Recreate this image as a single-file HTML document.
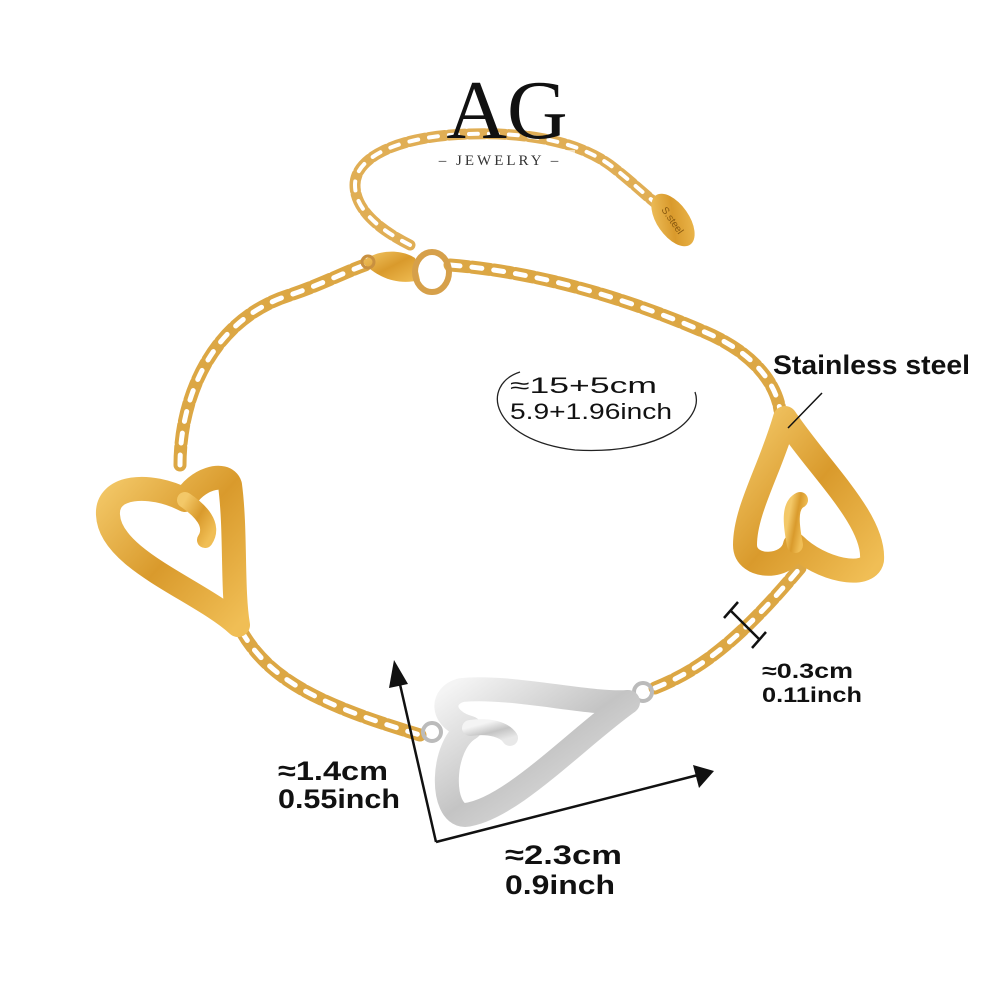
<!DOCTYPE html>
<html><head><meta charset="utf-8"><style>
html,body{margin:0;padding:0;background:#fff;width:1000px;height:1000px;overflow:hidden}
</style></head><body>
<svg width="1000" height="1000" viewBox="0 0 1000 1000" xmlns="http://www.w3.org/2000/svg">
<defs>
<linearGradient id="g" x1="0" y1="0" x2="1" y2="1"><stop offset="0" stop-color="#f3c868"/><stop offset="0.5" stop-color="#d99a2c"/><stop offset="1" stop-color="#f0be55"/></linearGradient>
<linearGradient id="s" x1="0" y1="0" x2="1" y2="1"><stop offset="0" stop-color="#f4f4f4"/><stop offset="0.5" stop-color="#c4c4c4"/><stop offset="1" stop-color="#e8e8e8"/></linearGradient>
</defs>
<rect width="1000" height="1000" fill="#fff"/>
<!-- chains -->
<g fill="none" stroke-linecap="round">
<path d="M410,245 C380,230 355,210 355,185 C355,160 390,140 450,135 C520,130 575,140 610,165 C630,180 645,195 658,205" stroke="#e0ae55" stroke-width="11" stroke-dasharray="16 4"/>
<path d="M410,245 C380,230 355,210 355,185 C355,160 390,140 450,135 C520,130 575,140 610,165 C630,180 645,195 658,205" stroke="#fff" stroke-width="4" stroke-dasharray="9 11"/>
<path d="M180,465 C180,400 210,320 290,295 C320,285 345,272 365,265 M450,265 C540,272 630,300 700,330 C750,350 775,380 780,410" stroke="#dca744" stroke-width="13" stroke-dasharray="18 4"/>
<path d="M180,465 C180,400 210,320 290,295 C320,285 345,272 365,265 M450,265 C540,272 630,300 700,330 C750,350 775,380 780,410" stroke="#fff" stroke-width="5" stroke-dasharray="10 12"/>
<path d="M242,632 C270,680 320,705 420,735 M655,688 C700,670 740,640 800,568" stroke="#dca744" stroke-width="13" stroke-dasharray="18 4"/>
<path d="M242,632 C270,680 320,705 420,735 M655,688 C700,670 740,640 800,568" stroke="#fff" stroke-width="5" stroke-dasharray="10 12"/>
</g>
<!-- logo -->
<text x="507" y="138" font-family="Liberation Serif,serif" font-size="84" text-anchor="middle" fill="#111">AG</text>
<rect x="425" y="150" width="150" height="20" fill="#fff" opacity="0.6"/>
<text x="500" y="165" font-family="Liberation Serif,serif" font-size="15" letter-spacing="3" text-anchor="middle" fill="#333">– JEWELRY –</text>
<circle cx="432" cy="732" r="9" fill="none" stroke="#bbb" stroke-width="4"/>
<circle cx="643" cy="692" r="9" fill="none" stroke="#bbb" stroke-width="4"/>
<!-- clasp -->
<path d="M362,262 C375,250 400,248 415,258 L420,280 C400,285 380,280 362,262Z" fill="url(#g)"/>
<ellipse cx="432" cy="272" rx="17" ry="20" fill="none" stroke="#d6a04a" stroke-width="6"/>
<circle cx="368" cy="262" r="6" fill="none" stroke="#c89040" stroke-width="3"/>
<!-- tag -->
<ellipse cx="673" cy="220" rx="16" ry="30" transform="rotate(-35 673 220)" fill="url(#g)"/>
<text x="673" y="224" font-family="Liberation Sans,sans-serif" font-size="10" fill="#8a5a10" text-anchor="middle" transform="rotate(55 673 220)">S.steel</text>
<!-- hearts -->
<g fill="none" stroke-linecap="round" stroke-linejoin="round">
<path d="M238,625 C200,590 110,560 108,515 C106,485 150,482 185,500 C195,480 225,470 230,485 C236,530 232,590 238,625" stroke="url(#g)" stroke-width="24"/>
<path d="M185,500 C200,510 215,525 205,540" stroke="url(#g)" stroke-width="16"/>
<path d="M785,418 C820,470 875,520 872,560 C868,580 820,570 795,545 C790,570 745,570 745,545 C745,510 770,470 785,418" stroke="url(#g)" stroke-width="24"/>
<path d="M795,545 C790,520 790,505 800,500" stroke="url(#g)" stroke-width="16"/>
<path d="M628,702 C590,705 510,685 462,690 C440,695 440,720 470,728 C440,745 440,815 465,815 C510,810 575,740 628,702" stroke="url(#s)" stroke-width="24"/>
<path d="M470,728 C490,725 505,730 510,738" stroke="url(#s)" stroke-width="16"/>
</g>
<!-- labels -->
<text x="773" y="374" font-family="Liberation Sans,sans-serif" font-size="27" font-weight="bold" fill="#111" textLength="197" lengthAdjust="spacingAndGlyphs">Stainless steel</text>
<line x1="822" y1="393" x2="788" y2="428" stroke="#111" stroke-width="1.5"/>
<path d="M520,372 C480,385 490,440 575,450 C660,455 705,420 695,392" fill="none" stroke="#222" stroke-width="1.3"/>
<g font-family="Liberation Sans,sans-serif" fill="#111">
<text x="510" y="393" font-size="22" textLength="147" lengthAdjust="spacingAndGlyphs">≈15+5cm</text>
<text x="510" y="419" font-size="22" textLength="162" lengthAdjust="spacingAndGlyphs">5.9+1.96inch</text>
</g>
<!-- dimension arrows -->
<g stroke="#111" stroke-width="2.5">
<line x1="436" y1="842" x2="399" y2="680"/>
<line x1="436" y1="842" x2="698" y2="775"/>
<line x1="730" y1="610" x2="760" y2="640"/>
<line x1="724" y1="618" x2="738" y2="602"/>
<line x1="752" y1="648" x2="766" y2="632"/>
</g>
<path d="M394,660 L389,688 L408,684Z" fill="#111"/>
<path d="M714,771 L693,765 L699,788Z" fill="#111"/>
<g font-family="Liberation Sans,sans-serif" font-weight="bold" fill="#111">
<text x="278" y="780" font-size="27" textLength="110" lengthAdjust="spacingAndGlyphs">≈1.4cm</text>
<text x="278" y="808" font-size="27" textLength="122" lengthAdjust="spacingAndGlyphs">0.55inch</text>
<text x="505" y="864" font-size="27" textLength="117" lengthAdjust="spacingAndGlyphs">≈2.3cm</text>
<text x="505" y="894" font-size="27" textLength="110" lengthAdjust="spacingAndGlyphs">0.9inch</text>
<text x="762" y="678" font-size="21" textLength="91" lengthAdjust="spacingAndGlyphs">≈0.3cm</text>
<text x="762" y="702" font-size="21" textLength="100" lengthAdjust="spacingAndGlyphs">0.11inch</text>
</g>
</svg>
</body></html>
